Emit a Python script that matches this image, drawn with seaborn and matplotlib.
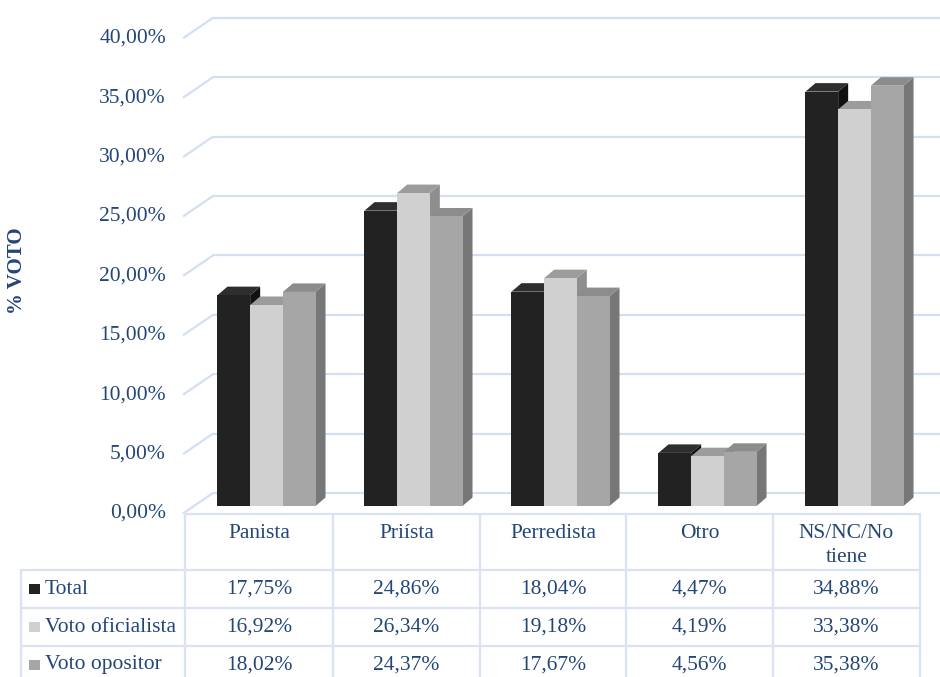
import numpy as np
import pandas as pd
import matplotlib
matplotlib.use("Agg")
import matplotlib.pyplot as plt
from matplotlib.patches import Polygon, Rectangle
import seaborn as sns

# --- data -------------------------------------------------------------
categorias = ["Panista", "Priísta", "Perredista", "Otro", "NS/NC/No\ntiene"]
series = ["Total", "Voto oficialista", "Voto opositor"]
total = [17.75, 24.86, 18.04, 4.47, 34.88]
oficialista = [16.92, 26.34, 19.18, 4.19, 33.38]
opositor = [18.02, 24.37, 17.67, 4.56, 35.38]
yticks = [0, 5, 10, 15, 20, 25, 30, 35, 40]

valores = [total, oficialista, opositor]
df = pd.DataFrame({
    "categoria": categorias * 3,
    "serie": sum([[s] * len(categorias) for s in series], []),
    "valor": total + oficialista + opositor,
})

# --- style ------------------------------------------------------------
sns.set_style("white")
plt.rcParams["font.family"] = ["Liberation Serif", "DejaVu Serif"]
TXT = "#234678"
GRID = "#d3dff2"
TABLE = "#d9e3f4"
front_cols = ["#222222", "#d0d0d0", "#a6a6a6"]
top_cols = ["#2e2e2e", "#9c9c9c", "#8c8c8c"]
side_cols = ["#111111", "#8e8e8e", "#777777"]
FS = 15.5

W, H = 940, 677
fig = plt.figure(figsize=(W / 100, H / 100), dpi=100)

# background layer in pixel coordinates (walls, grid, table)
bg = fig.add_axes([0, 0, 1, 1], zorder=0)
bg.set_xlim(0, W)
bg.set_ylim(H, 0)
bg.axis("off")

# plotting layer for the bars
px_left, px_right = 193, 928
y0_px, ppu = 506, 11.88
ax = fig.add_axes([px_left / W, (H - y0_px) / H,
                   (px_right - px_left) / W, 40 * ppu / H], zorder=1)
ax.patch.set_alpha(0)

sns.barplot(data=df, x="categoria", y="valor", hue="serie",
            order=categorias, hue_order=series,
            palette=dict(zip(series, front_cols)), saturation=1,
            width=0.667, gap=0, legend=False, ax=ax,
            linewidth=0, edgecolor="none", errorbar=None)
ax.set_xlim(-0.5, 4.5)
ax.set_ylim(0, 40)
ax.axis("off")

# 3D-style top and side faces for each bar
unit_px = (px_right - px_left) / 5.0
dx = 10 / unit_px
dy = 8.5 / ppu
for j, cont in enumerate(ax.containers):
    for bar in cont:
        x0 = bar.get_x()
        x1 = x0 + bar.get_width()
        h = bar.get_height()
        bar.set_zorder(2 + j * 0.1 + 0.05)
        top = Polygon([(x0, h), (x1, h), (x1 + dx, h + dy), (x0 + dx, h + dy)],
                      closed=True, facecolor=top_cols[j], edgecolor="none",
                      zorder=2 + j * 0.1, clip_on=False)
        side = Polygon([(x1, 0), (x1 + dx, dy), (x1 + dx, h + dy), (x1, h)],
                       closed=True, facecolor=side_cols[j], edgecolor="none",
                       zorder=2 + j * 0.1, clip_on=False)
        ax.add_patch(side)
        ax.add_patch(top)

# --- back wall gridlines and y tick labels -----------------------------
fig.canvas.draw()


def ypix(v):
    return H - ax.transData.transform((0, v))[1]


x_front, x_back, x_end = 183, 213, 940
for v in yticks:
    yb = ypix(v)
    y_back = yb - 13
    y_front = yb + 7.5
    bg.plot([x_front, x_back], [y_front, y_back], color=GRID, lw=1.6,
            solid_capstyle="butt")
    bg.plot([x_back, x_end], [y_back, y_back], color=GRID, lw=1.6)
    bg.text(166, y_front, f"{v:.2f}".replace(".", ",") + "%",
            ha="right", va="center", fontsize=FS, color=TXT)

bg.text(17, 271, "% VOTO", rotation=90, ha="center", va="center",
        fontsize=15, fontweight="bold", color=TXT)

# --- data table -----------------------------------------------------------
col_edges = [185, 333, 480, 626, 773, 920]
label_left = 21
header_top = ypix(0) + 7.5
row_edges = [570, 608, 646, 684]

lw_t = 1.6
# header row (category names)
bg.plot([col_edges[0], col_edges[-1]], [header_top, header_top], color=TABLE, lw=lw_t)
for x in col_edges:
    bg.plot([x, x], [header_top, row_edges[-1]], color=TABLE, lw=lw_t)
bg.plot([label_left, label_left], [row_edges[0], row_edges[-1]], color=TABLE, lw=lw_t)
for y in row_edges:
    bg.plot([label_left, col_edges[-1]], [y, y], color=TABLE, lw=lw_t)

for i, cat in enumerate(categorias):
    cx = (col_edges[i] + col_edges[i + 1]) / 2
    lines = cat.split("\n")
    for k, ln in enumerate(lines):
        bg.text(cx, 533 + k * 24.5, ln, ha="center", va="center",
                fontsize=FS, color=TXT)

for r, (nombre, vals) in enumerate(zip(series, valores)):
    cy = (row_edges[r] + row_edges[r + 1]) / 2
    bg.add_patch(Rectangle((29, cy - 5.5), 10.5, 10.5, facecolor=front_cols[r],
                           edgecolor="none"))
    bg.text(45, cy, nombre, ha="left", va="center", fontsize=FS, color=TXT)
    for i, v in enumerate(vals):
        cx = (col_edges[i] + col_edges[i + 1]) / 2
        bg.text(cx, cy, f"{v:.2f}".replace(".", ",") + "%", ha="center",
                va="center", fontsize=FS, color=TXT)

fig.savefig("out.png", dpi=100, facecolor="white")
